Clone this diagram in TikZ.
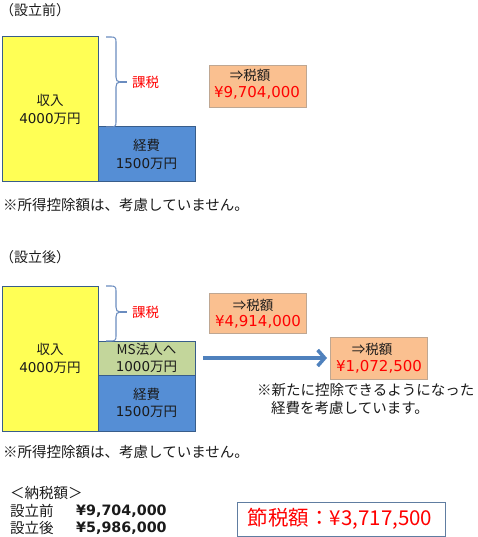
\documentclass[tikz,border=0pt]{standalone}
\usepackage{fontspec}
\setmainfont{Noto Sans CJK JP}
\newfontfamily\lat{DejaVu Sans}
\usetikzlibrary{arrows.meta}
\definecolor{edgeblue}{HTML}{385D8A}
\definecolor{yel}{HTML}{FFFF55}
\definecolor{blu}{HTML}{558ED5}
\definecolor{grn}{HTML}{C3D69B}
\definecolor{org}{HTML}{FAC090}
\definecolor{orgedge}{HTML}{BFA792}
\definecolor{bracecol}{HTML}{6A8CBF}
\definecolor{txtred}{HTML}{FF0000}
\definecolor{arrowblue}{HTML}{4F81BD}
\definecolor{txtdark}{HTML}{1A1A1A}
\tikzset{
  jp/.style={font=\fontsize{13.5}{17.5}\selectfont, text=txtdark, inner sep=0pt},
  bar/.style={draw=edgeblue, line width=1pt, anchor=north west, inner sep=0pt, outer sep=0pt,
    align=center, font=\fontsize{13.5}{17.5}\selectfont, text=txtdark},
  taxbox/.style={fill=org, draw=orgedge, line width=0.7pt, anchor=north west, inner sep=0pt, outer sep=0pt},
  amount/.style={font=\lat\fontsize{15}{17}\selectfont, text=txtred, inner sep=0pt},
  bracestyle/.style={draw=bracecol, line width=1.1pt},
  redlbl/.style={font=\fontsize{13.5}{16}\selectfont, text=txtred, inner sep=0pt, anchor=west},
  note/.style={font=\fontsize{14.5}{18}\selectfont, text=txtdark, inner sep=0pt, anchor=west},
  ttl/.style={font=\fontsize{14}{17}\selectfont, text=txtdark, inner sep=0pt, anchor=west}
}
\begin{document}
\begin{tikzpicture}[x=1pt,y=-1pt]
\useasboundingbox (0,0) rectangle (477,537);

% ---------- before ----------
\node[ttl] (t1) at (0,10) {（設立前）};
\node[bar, fill=yel, minimum width=96pt, minimum height=145pt] (inc1) at (2,37)
  {収入\\{\lat 4000}万円};
\node[bar, fill=blu, minimum width=97pt, minimum height=55pt] (exp1) at (98,127)
  {経費\\{\lat 1500}万円};
\draw[bracestyle] (106,37) -- (111,37) .. controls (115,37) and (116,38) .. (116,42)
  -- (116,77) .. controls (116,80) and (117,82) .. (120,82)
  .. controls (117,82) and (116,84) .. (116,87) -- (116,122)
  .. controls (116,126) and (115,127) .. (111,127) -- (106,127);
\coordinate (tip1) at (120,82);
\draw[bracestyle] (tip1) -- ++(7,0);
\node[redlbl] (k1) at (132,82) {課税};
\node[taxbox, minimum width=97pt, minimum height=42pt] (tax1) at (209,65) {};
\node[jp] (tl1) at (250,75) {⇒税額};
\node[amount] (ta1) at (257,93) {¥9,704,000};
\node[note] (n1) at (3,205) {※所得控除額は、考慮していません。};

% ---------- after ----------
\node[ttl] (t2) at (0,257) {（設立後）};
\node[bar, fill=yel, minimum width=96pt, minimum height=145pt] (inc2) at (2,286)
  {収入\\{\lat 4000}万円};
\node[bar, fill=grn, minimum width=97pt, minimum height=34pt] (ms) at (98,341)
  {MS法人へ\\{\lat 1000}万円};
\node[bar, fill=blu, minimum width=97pt, minimum height=56pt] (exp2) at (98,375)
  {経費\\{\lat 1500}万円};
\draw[bracestyle] (106,286) -- (111,286) .. controls (115,286) and (116,287) .. (116,291)
  -- (116,307) .. controls (116,310) and (117,312) .. (120,312)
  .. controls (117,312) and (116,314) .. (116,317) -- (116,336)
  .. controls (116,340) and (115,341) .. (111,341) -- (106,341);
\coordinate (tip2) at (120,312);
\draw[bracestyle] (tip2) -- ++(7,0);
\node[redlbl] (k2) at (132,312) {課税};
\node[taxbox, minimum width=97pt, minimum height=40pt] (tax2) at (209,293) {};
\node[jp] (tl2) at (253,305) {⇒税額};
\node[amount] (ta2) at (258,322) {¥4,914,000};
\node[taxbox, minimum width=97pt, minimum height=42pt] (tax3) at (330,337) {};
\node[jp] (tl3) at (372,349) {⇒税額};
\node[amount] (ta3) at (379,367) {¥1,072,500};
\draw[draw=arrowblue, line width=3.6pt, shorten <=8pt, shorten >=3pt,
  -{Straight Barb[length=7pt, width=16pt]}] (ms.east) -- (tax3.west);
\node[note] (n2) at (257,390) {※新たに控除できるようになった};
\node[note] (n3) at (271,408) {経費を考慮しています。};
\node[note] (n4) at (3,452) {※所得控除額は、考慮していません。};

% ---------- summary ----------
\node[note] (s0) at (10,493) {＜納税額＞};
\node[note] (s1) at (10,511) {設立前};
\node[note, font=\lat\bfseries\fontsize{14.3}{17}\selectfont] (s1v) at (76,511) {¥9,704,000};
\node[note] (s2) at (10,528) {設立後};
\node[note, font=\lat\bfseries\fontsize{14.3}{17}\selectfont] (s2v) at (76,528) {¥5,986,000};
\node[draw=edgeblue!80, line width=1pt, anchor=north west, minimum width=208pt, minimum height=34pt,
  inner sep=0pt] (save) at (237,502) {};
\node[font=\fontsize{20.5}{24}\selectfont, text=txtred, inner sep=0pt] (savet) at (340,519) {節税額：¥3,717,500};
\end{tikzpicture}
\end{document}
